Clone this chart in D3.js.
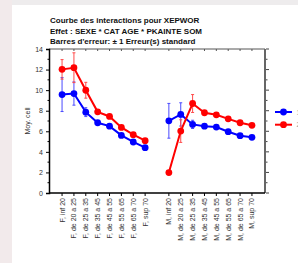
<!DOCTYPE html>
<html>
<head>
<meta charset="utf-8">
<script src="https://cdn.jsdelivr.net/npm/d3@7"></script>
<style>
  body { margin: 0; background: #ffffff; }
  text { font-family: "Liberation Sans", Arial, sans-serif; }
</style>
</head>
<body>
<div id="wrapper"></div>
<script>
// categories (empty slot "gap" between F and M)
const categories = ["F, inf 20", "F, de 20 a 25", "F, de 25 a 35", "F, de 35 a 45", "F, de 45 a 55", "F, de 55 a 65", "F, de 65 a 70", "F, sup 70",
  "gap",
  "M, inf 20", "M, de 20 a 25", "M, de 25 a 35", "M, de 35 a 45", "M, de 45 a 55", "M, de 55 a 65", "M, de 65 a 70", "M, sup 70"]
const seriesNames = ["1", "2"]
const blueValues = [9.57, 9.67, 7.86, 6.83, 6.5, 5.6, 4.96, 4.41, null, 7.02, 7.64, 6.67, 6.5, 6.41, 5.96, 5.57, 5.41]
const blueErr = [1.65, 1.13, 0.43, 0.2, 0.15, 0.15, 0.12, 0.12, null, 1.69, 1.13, 0.4, 0.15, 0.15, 0.12, 0.12, 0.1]
const redValues = [12.02, 12.18, 9.99, 7.89, 7.44, 6.38, 5.67, 5.09, null, 1.99, 6.02, 8.7, 7.8, 7.6, 7.21, 6.83, 6.58]
const redErr = [0.95, 1.45, 0.77, 0.2, 0.2, 0.15, 0.15, 0.12, null, 0, 1.1, 0.87, 0.2, 0.15, 0.15, 0.12, 0.12]
const yTicks = [0, 2, 4, 6, 8, 10, 12, 14]
const titleLines = ["Courbe des interactions pour XEPWOR", "Effet : SEXE * CAT AGE * PKAINTE SOM", "Barres d'erreur: \u00b1 1 Erreur(s) standard"]

const width = 298
const height = 263
let dimensions = {
    width: width,
    height: height,
    margin: { top: 49, right: 33, bottom: 70, left: 49 },
}
dimensions.boundedWidth = dimensions.width - dimensions.margin.left - dimensions.margin.right
dimensions.boundedHeight = dimensions.height - dimensions.margin.top - dimensions.margin.bottom

const svg = d3.select("#wrapper").append("svg")
    .attr("width", width).attr("height", height)
// background strips
svg.append("rect").attr("width", width).attr("height", height).attr("fill", "#ffffff")
svg.append("rect").attr("width", width).attr("height", 5).attr("fill", "#eeeced")
svg.append("rect").attr("width", 12).attr("height", height).attr("fill", "#f2eaeb")

const bounds = svg.append("g")
    .attr("transform", `translate(${dimensions.margin.left},${dimensions.margin.top})`)

const xScale = d3.scalePoint().domain(categories).range([0, dimensions.boundedWidth]).padding(1.1)
const yScale = d3.scaleLinear().domain([0, 14]).range([dimensions.boundedHeight, 0])
const realCats = categories.filter(c => c !== "gap")

// titles
svg.append("g").selectAll("text").data(titleLines).join("text")
    .attr("x", 50).attr("y", (d, i) => 23 + i * 10.7)
    .attr("font-size", 8).attr("font-weight", "bold").attr("fill", "#111")
    .text(d => d)

// top axis
const topAxis = bounds.append("g")
topAxis.append("line").attr("x1", 0).attr("x2", dimensions.boundedWidth).attr("stroke", "#555").attr("stroke-width", 1)
topAxis.selectAll("line.t").data(realCats).join("line").attr("class", "t")
    .attr("x1", d => xScale(d)).attr("x2", d => xScale(d)).attr("y1", 0).attr("y2", 2)
    .attr("stroke", "#555")

// right axis
const rightAxis = bounds.append("g").attr("transform", `translate(${dimensions.boundedWidth},0)`)
rightAxis.append("line").attr("y1", 0).attr("y2", dimensions.boundedHeight).attr("stroke", "#666").attr("stroke-width", 2)
rightAxis.selectAll("line.t").data(d3.range(0, 15)).join("line").attr("class", "t")
    .attr("x1", 1).attr("x2", d => d % 2 === 0 ? 4 : 2.5)
    .attr("y1", d => yScale(d)).attr("y2", d => yScale(d))
    .attr("stroke", "#444")

// left axis
const yAxis = bounds.append("g")
    .call(d3.axisLeft(yScale).tickValues(yTicks).tickSize(3).tickPadding(3))
yAxis.select(".domain").attr("stroke", "#000").attr("stroke-width", 1.5)
yAxis.selectAll("text").attr("font-size", 7).attr("fill", "#333").attr("font-family", "Liberation Sans, Arial, sans-serif")
yAxis.selectAll("line.minor").data(d3.range(1, 14, 2)).join("line").attr("class", "minor")
    .attr("x1", 0).attr("x2", -1.5).attr("y1", d => yScale(d)).attr("y2", d => yScale(d)).attr("stroke", "#000")

// bottom axis
const xAxis = bounds.append("g").attr("transform", `translate(0,${dimensions.boundedHeight})`)
xAxis.append("line").attr("x1", 0).attr("x2", dimensions.boundedWidth).attr("stroke", "#000").attr("stroke-width", 1.5)
xAxis.selectAll("line.t").data(realCats).join("line").attr("class", "t")
    .attr("x1", d => xScale(d)).attr("x2", d => xScale(d)).attr("y1", 0).attr("y2", 3)
    .attr("stroke", "#000")
xAxis.selectAll("text").data(realCats).join("text")
    .attr("transform", d => `translate(${xScale(d) + 2.5},5) rotate(-90)`)
    .attr("text-anchor", "end")
    .attr("font-size", 7).attr("fill", "#333")
    .text(d => d)

// y label
svg.append("text")
    .attr("transform", "translate(30,121) rotate(-90)")
    .attr("text-anchor", "middle").attr("font-size", 7).attr("fill", "#333")
    .text("Moy. cell")

// series
const series = [
    { name: seriesNames[0], values: blueValues, err: blueErr, color: "#0000ff", errColor: "#4a4aff" },
    { name: seriesNames[1], values: redValues, err: redErr, color: "#ff0000", errColor: "#ff4a4a" },
]
const line = d3.line()
    .defined(d => d.v !== null)
    .x(d => xScale(d.c)).y(d => yScale(d.v))

series.forEach(s => {
    const pts = categories.map((c, i) => ({ c: c, v: s.values[i], e: s.err[i] }))
    const g = bounds.append("g")
    // error bars
    const eb = g.selectAll("g.eb").data(pts.filter(p => p.v !== null && p.e > 0)).join("g").attr("class", "eb")
    eb.append("line")
        .attr("x1", d => xScale(d.c)).attr("x2", d => xScale(d.c))
        .attr("y1", d => yScale(d.v - d.e)).attr("y2", d => yScale(d.v + d.e))
        .attr("stroke", s.errColor).attr("stroke-width", 1)
    ;[-1, 1].forEach(sg => {
        eb.append("line")
            .attr("x1", d => xScale(d.c) - 1.5).attr("x2", d => xScale(d.c) + 1.5)
            .attr("y1", d => yScale(d.v + sg * d.e)).attr("y2", d => yScale(d.v + sg * d.e))
            .attr("stroke", s.errColor).attr("stroke-width", 1)
    })
    g.append("path").datum(pts).attr("d", line)
        .attr("fill", "none").attr("stroke", s.color).attr("stroke-width", 2)
    g.selectAll("circle").data(pts.filter(p => p.v !== null)).join("circle")
        .attr("cx", d => xScale(d.c)).attr("cy", d => yScale(d.v)).attr("r", 3.4)
        .attr("fill", s.color)
})

// legend (labels run past the right edge, as in the original)
const legend = svg.append("g").attr("transform", "translate(275,112)")
series.forEach((s, i) => {
    const lg = legend.append("g").attr("transform", `translate(0,${i * 12.7})`)
    lg.append("line").attr("x1", 0).attr("x2", 17).attr("stroke", s.color).attr("stroke-width", 2)
    lg.append("circle").attr("cx", 8.5).attr("r", 3.4).attr("fill", s.color)
    lg.append("text").attr("x", 21.5).attr("y", 2.5).attr("font-size", 7).attr("fill", "#999").text(s.name)
})
</script>
</body>
</html>
